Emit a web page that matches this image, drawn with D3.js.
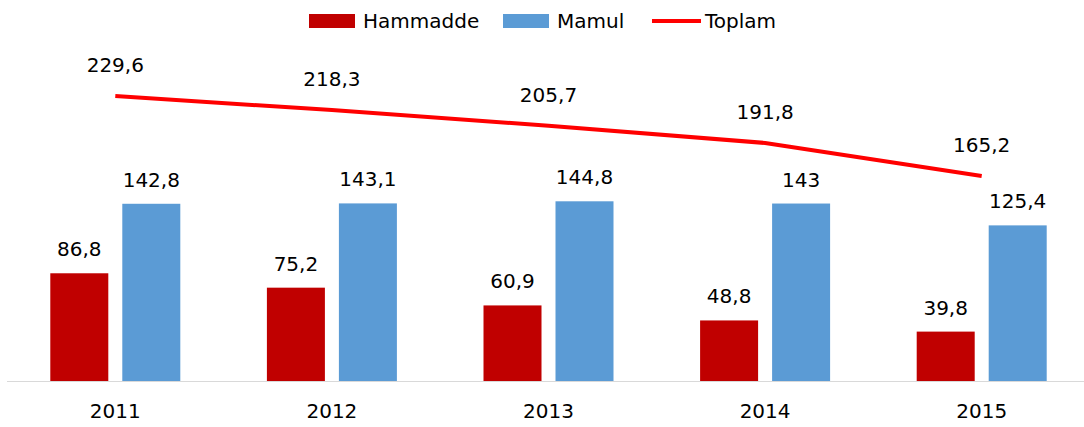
<!DOCTYPE html>
<html>
<head>
<meta charset="utf-8">
<script src="https://cdn.jsdelivr.net/npm/d3@7"></script>
<style>
  html, body { margin: 0; padding: 0; background: #fff; }
  svg { display: block; font-family: "DejaVu Sans", sans-serif; }
</style>
</head>
<body>
<div id="chart"></div>
<script>
// --- data ---
const years = ['2011', '2012', '2013', '2014', '2015'];
const hammadde = [86.8, 75.2, 60.9, 48.8, 39.8];
const mamul = [142.8, 143.1, 144.8, 143, 125.4];
const toplam = [229.6, 218.3, 205.7, 191.8, 165.2];
const seriesNames = ['Hammadde', 'Mamul', 'Toplam'];

const COLORS = { Hammadde: '#c00000', Mamul: '#5b9bd5', Toplam: '#ff0000' };
const width = 1084, height = 427;
const baseY = 381;

const fmt = v => String(v).replace('.', ',');

const svg = d3.select('#chart').append('svg')
  .attr('width', width)
  .attr('height', height)
  .attr('viewBox', `0 0 ${width} ${height}`);

// scales
const x0 = d3.scaleBand().domain(years).range([7, 1090]);
const x1 = d3.scaleBand().domain(['Hammadde', 'Mamul']).range([0, 130]).paddingInner(14 / 72);
const y = d3.scaleLinear().domain([0, 307]).range([baseY, 0]);
const cx = yr => x0(yr) + x0.bandwidth() / 2;

// axis line
svg.append('line')
  .attr('x1', 7).attr('x2', width)
  .attr('y1', baseY + 0.5).attr('y2', baseY + 0.5)
  .attr('stroke', '#d9d9d9').attr('stroke-width', 1);

// bars
const barData = [];
years.forEach((yr, i) => {
  barData.push({ yr, key: 'Hammadde', v: hammadde[i] });
  barData.push({ yr, key: 'Mamul', v: mamul[i] });
});

const barG = svg.append('g');
barG.selectAll('rect').data(barData).join('rect')
  .attr('x', d => cx(d.yr) - 65 + x1(d.key))
  .attr('y', d => y(d.v))
  .attr('width', x1.bandwidth())
  .attr('height', d => baseY - y(d.v))
  .attr('fill', d => COLORS[d.key]);

barG.selectAll('text').data(barData).join('text')
  .attr('x', d => cx(d.yr) - 65 + x1(d.key) + x1.bandwidth() / 2)
  .attr('y', d => y(d.v) - 17)
  .attr('text-anchor', 'middle')
  .attr('font-size', 20)
  .attr('fill', '#000')
  .text(d => fmt(d.v));

// total line
const line = d3.line()
  .x((d, i) => cx(years[i]))
  .y(d => y(d));

svg.append('path')
  .datum(toplam)
  .attr('d', line)
  .attr('fill', 'none')
  .attr('stroke', COLORS.Toplam)
  .attr('stroke-width', 4)
  .attr('stroke-linejoin', 'round');

svg.append('g').selectAll('text').data(toplam).join('text')
  .attr('x', (d, i) => cx(years[i]))
  .attr('y', d => y(d) - 24)
  .attr('text-anchor', 'middle')
  .attr('font-size', 20)
  .attr('fill', '#000')
  .text(d => fmt(d));

// category labels
svg.append('g').selectAll('text').data(years).join('text')
  .attr('x', d => cx(d))
  .attr('y', 418)
  .attr('text-anchor', 'middle')
  .attr('font-size', 20)
  .attr('fill', '#000')
  .text(d => d);

// legend
const legendX = [309, 503, 652];
const legend = svg.append('g');
seriesNames.forEach((name, i) => {
  const lx = legendX[i];
  if (name === 'Toplam') {
    legend.append('line')
      .attr('x1', lx).attr('x2', lx + 49)
      .attr('y1', 21).attr('y2', 21)
      .attr('stroke', COLORS[name]).attr('stroke-width', 4);
    legend.append('text').attr('x', lx + 53).attr('y', 28)
      .attr('font-size', 20).attr('fill', '#000').text(name);
  } else {
    legend.append('rect')
      .attr('x', lx).attr('y', 14).attr('width', 46).attr('height', 14)
      .attr('fill', COLORS[name]);
    legend.append('text').attr('x', lx + 54).attr('y', 28)
      .attr('font-size', 20).attr('fill', '#000').text(name);
  }
});
</script>
</body>
</html>
